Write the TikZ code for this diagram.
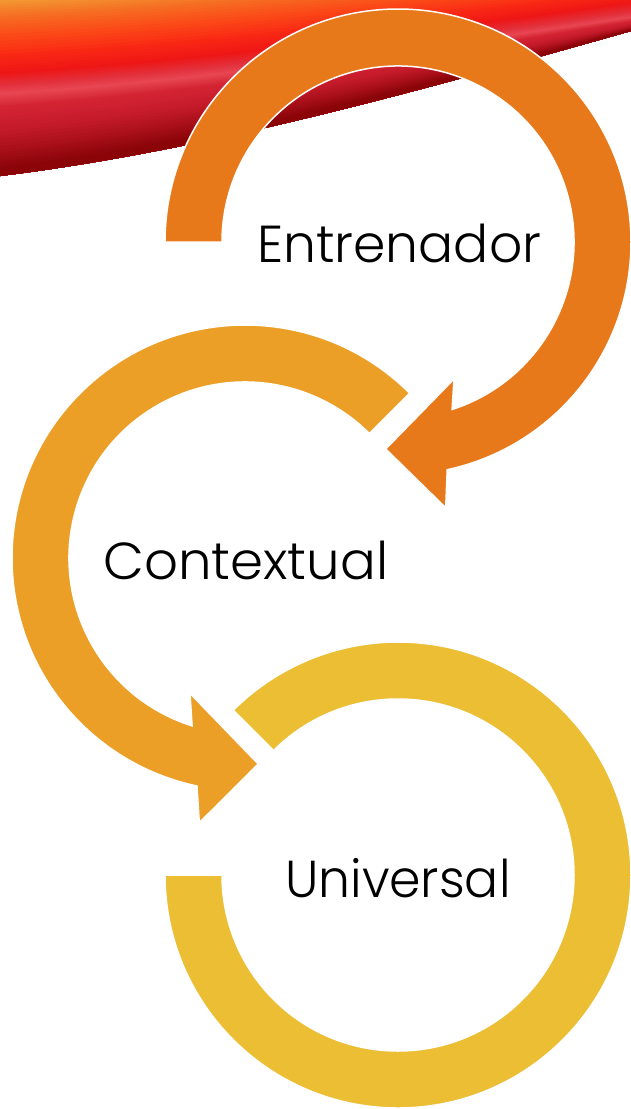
\documentclass[tikz,border=0pt]{standalone}
\usepackage{fontspec}
\setmainfont{Poppins}[UprightFont=* Light]
\usetikzlibrary{calc}
\definecolor{ringA}{HTML}{E8791A}
\definecolor{ringB}{HTML}{EC9F26}
\definecolor{ringC}{HTML}{EBBE34}
\definecolor{sa}{HTML}{F29632}
\definecolor{sb}{HTML}{F66C22}
\definecolor{sc}{HTML}{FB4A18}
\definecolor{sd}{HTML}{F92814}
\definecolor{se}{HTML}{EE1616}
\definecolor{sf}{HTML}{E2323E}
\definecolor{sg}{HTML}{E84652}
\definecolor{sh}{HTML}{D42434}
\definecolor{si}{HTML}{C41A2A}
\definecolor{sj}{HTML}{A60E18}
\definecolor{sk}{HTML}{8A0408}
\newcommand\stripeband[3]{%
  \pgfmathsetmacro\sca{#1-0.18*(#1-(#2))}%
  \pgfmathsetmacro\scb{#1-0.59*(#1-(#2))}%
  \fill[#3] (0,#1) .. controls (210,\sca) and (420,\scb) .. (631,#2) -- (631,31)
    .. controls (420,90.5) and (210,150) .. (0,176) -- cycle;}
% smooth segment between two key stripes
\newcommand\segband[6]{%
  \foreach \sj in {1,...,6}{%
    \pgfmathsetmacro\syl{#1+(\sj/6)*((#4)-(#1))}%
    \pgfmathsetmacro\syr{#2+(\sj/6)*((#5)-(#2))}%
    \pgfmathtruncatemacro\spc{100*\sj/6}%
    \stripeband{\syl}{\syr}{#6!\spc!#3}%
  }}
\begin{document}
\begin{tikzpicture}[x=1pt,y=-1pt,
  ring/.style={draw=white, line width=1.5pt, line join=miter},
  lbl/.style={anchor=base west, inner sep=0pt, font=\fontsize{52}{60}\selectfont}]
\useasboundingbox (0,0) rectangle (631,1109);
\fill[white] (0,0) rectangle (631,1109);
\begin{scope}
  \clip (0,0) rectangle (631,1109);
  \fill[sa] (0,0) -- (631,0) -- (631,31) .. controls (420,90.5) and (210,150) .. (0,176) -- cycle;
  \segband{0}{-50}{sa}{16}{-40}{sb}
  \segband{16}{-40}{sb}{34}{-25}{sc}
  \segband{34}{-25}{sc}{54}{-10}{sd}
  \segband{54}{-10}{sd}{72}{2}{se}
  \segband{72}{2}{se}{85}{12}{sf}
  \segband{85}{12}{sf}{93}{17}{sg}
  \segband{93}{17}{sg}{106}{21}{sh}
  \segband{106}{21}{sh}{128}{25}{si}
  \segband{128}{25}{si}{150}{28}{sj}
  \segband{150}{28}{sj}{167}{30}{sk}
\end{scope}
\coordinate (C1) at (398,242);
\coordinate (C2) at (245,558);
\coordinate (C3) at (398,875);
% ring 1 (Entrenador)
\fill[ringA, ring] ($(C1)+(180:233)$) arc[start angle=180, end angle=437.8, radius=233]
  -- (445.7,507.7) -- (385.7,449) -- (454,379)
  -- ($(C1)+(432.1:176)$) arc[start angle=432.1, end angle=180, radius=176] -- cycle;
% ring 2 (Contextual)
\fill[ringB, ring] ($(C2)+(-45:233)$) arc[start angle=-45, end angle=-258.1, radius=233]
  -- (199.3,822.7) -- (258.3,764) -- (190,693.3)
  -- ($(C2)+(-252.5:176)$) arc[start angle=-252.5, end angle=-45, radius=176] -- cycle;
% ring 3 (Universal)
\fill[ringC, ring] ($(C3)+(180:233)$) arc[start angle=180, end angle=-135, radius=233]
  -- ($(C3)+(-135:176)$) arc[start angle=-135, end angle=180, radius=176] -- cycle;
\node[lbl] (t1) at (257,262) {Entrenador};
\node[lbl, xscale=1.02] (t2) at (103,579) {Contextual};
\node[lbl, xscale=0.97] (t3) at (285,897) {Universal};
\end{tikzpicture}
\end{document}
